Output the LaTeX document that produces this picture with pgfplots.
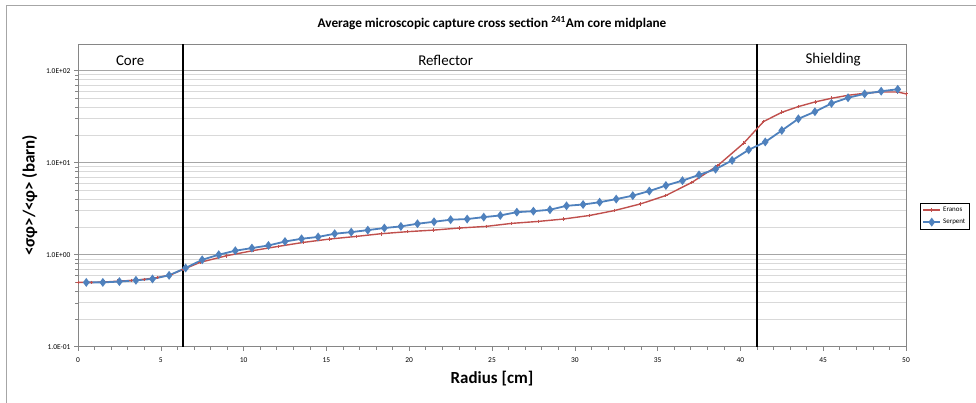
\documentclass[border=0pt]{standalone}
\usepackage{pgfplots}
\pgfplotsset{compat=1.18}
\usepackage{fontspec}
\setmainfont{Carlito}

\definecolor{eranos}{HTML}{C0504D}
\definecolor{serpent}{HTML}{4F81BD}
\definecolor{gridmaj}{HTML}{A6A6A6}
\definecolor{gridmin}{HTML}{D9D9D9}
\definecolor{frame}{HTML}{868686}

\begin{document}
\begin{tikzpicture}[x=1bp,y=1bp]
\useasboundingbox (0,0) rectangle (976,402);
% chart area frame
\draw[gridmaj, line width=0.8bp] (6,-10) -- (6,397) -- (990,397);

\begin{axis}[
    at={(78bp,55.3bp)}, anchor=south west,
    scale only axis,
    width=828bp, height=302.7bp,
    xmin=0, xmax=50,
    ymode=log,
    ymin=0.1, ymax=195,
    xtick={0,5,...,50},
    minor xtick={0,1,...,50},
    ytick={0.1,1,10,100},
    yticklabels={1.0E-01,1.0E+00,1.0E+01,1.0E+02},
    tick pos=left,
    tick align=outside,
    major tick length=4bp,
    minor tick length=3bp,
    tick style={frame, line width=0.6bp},
    axis line style={frame, line width=0.8bp},
    ymajorgrids, yminorgrids,
    major grid style={gridmaj, line width=0.8bp},
    minor grid style={gridmin, line width=0.8bp},
    /pgf/number format/assume math mode=true,
    ticklabel style={font=\fontsize{7.5}{8}\selectfont},
    xticklabel style={yshift=-3bp},
    xlabel={\textbf{Radius [cm]}},
    xlabel style={font=\fontsize{17}{19}\selectfont, yshift=-2bp},
    ylabel={\textbf{<σφ>/<φ> (barn)}},
    ylabel style={font=\fontsize{17}{19}\selectfont, yshift=2bp},
    title={\textbf{Average microscopic capture cross section \textsuperscript{241}Am core midplane}},
    title style={font=\fontsize{13.3}{15}\selectfont, yshift=5bp},
    legend style={at={(1.017,0.475)}, anchor=north west,
        font=\fontsize{7}{8}\selectfont, draw=black, line width=0.5bp,
        row sep=2bp, inner sep=2bp, cells={anchor=west}},
    legend cell align=left,
    clip=false,
]
    % region boundaries
    \addplot[black, line width=1.1bp, forget plot] coordinates {(6.34,0.1) (6.34,195)};
    \addplot[black, line width=1.1bp, forget plot] coordinates {(41.0,0.1) (41.0,195)};

    % Eranos
    \addplot[eranos, line width=1.4bp, mark=+, mark size=1.8bp,
        mark options={line width=0.8bp}] coordinates {
        (0,0.500) (0.8,0.500) (1.6,0.505) (2.4,0.515) (3.2,0.525)
        (4.0,0.540) (4.8,0.565) (5.6,0.605) (6.34,0.690)
        (7.37,0.825) (8.98,0.975) (10.6,1.11) (12.08,1.23) (13.6,1.36)
        (15.2,1.48) (16.8,1.58) (18.3,1.69) (19.9,1.78) (21.46,1.85)
        (23.03,1.95) (24.64,2.03) (26.19,2.19) (27.8,2.30) (29.3,2.44)
        (30.9,2.67) (32.4,3.02) (33.98,3.57) (35.5,4.40) (37.06,6.09)
        (38.63,9.30) (40.2,16.3) (41.4,28.0) (42.5,35.3) (43.5,40.7)
        (44.5,45.7) (45.5,50.1) (46.5,54.0) (47.5,56.8) (48.5,58.7)
        (49.5,58.7) (50,56.0)
    };
    % Serpent
    \addplot[serpent, line width=1.8bp, mark=diamond*, mark size=3bp] coordinates {
        (0.5,0.500) (1.5,0.500) (2.5,0.510) (3.5,0.527) (4.5,0.545)
        (5.5,0.597) (6.5,0.717) (7.5,0.880) (8.5,1.00) (9.5,1.105)
        (10.5,1.18) (11.5,1.26) (12.5,1.39) (13.5,1.49) (14.5,1.56)
        (15.5,1.69) (16.5,1.76) (17.5,1.85) (18.5,1.95) (19.5,2.03)
        (20.5,2.17) (21.5,2.28) (22.5,2.40) (23.5,2.44) (24.5,2.56)
        (25.5,2.67) (26.5,2.90) (27.5,2.97) (28.5,3.08) (29.5,3.40)
        (30.5,3.51) (31.5,3.72) (32.5,4.02) (33.5,4.38) (34.5,4.92)
        (35.5,5.65) (36.5,6.38) (37.5,7.37) (38.5,8.50) (39.5,10.6)
        (40.5,13.8) (41.5,16.8) (42.5,22.4) (43.5,30.0) (44.5,35.8)
        (45.5,44.1) (46.5,50.8) (47.5,56.0) (48.5,59.8) (49.5,62.8)
    };
    \legend{Eranos, Serpent}

    % region names
    \node[font=\fontsize{15}{17}\selectfont] at (axis cs:3.15,128) {Core};
    \node[font=\fontsize{15}{17}\selectfont] at (axis cs:22.2,128) {Reflector};
    \node[font=\fontsize{15}{17}\selectfont] at (axis cs:45.6,133) {Shielding};
\end{axis}
\end{tikzpicture}
\end{document}
